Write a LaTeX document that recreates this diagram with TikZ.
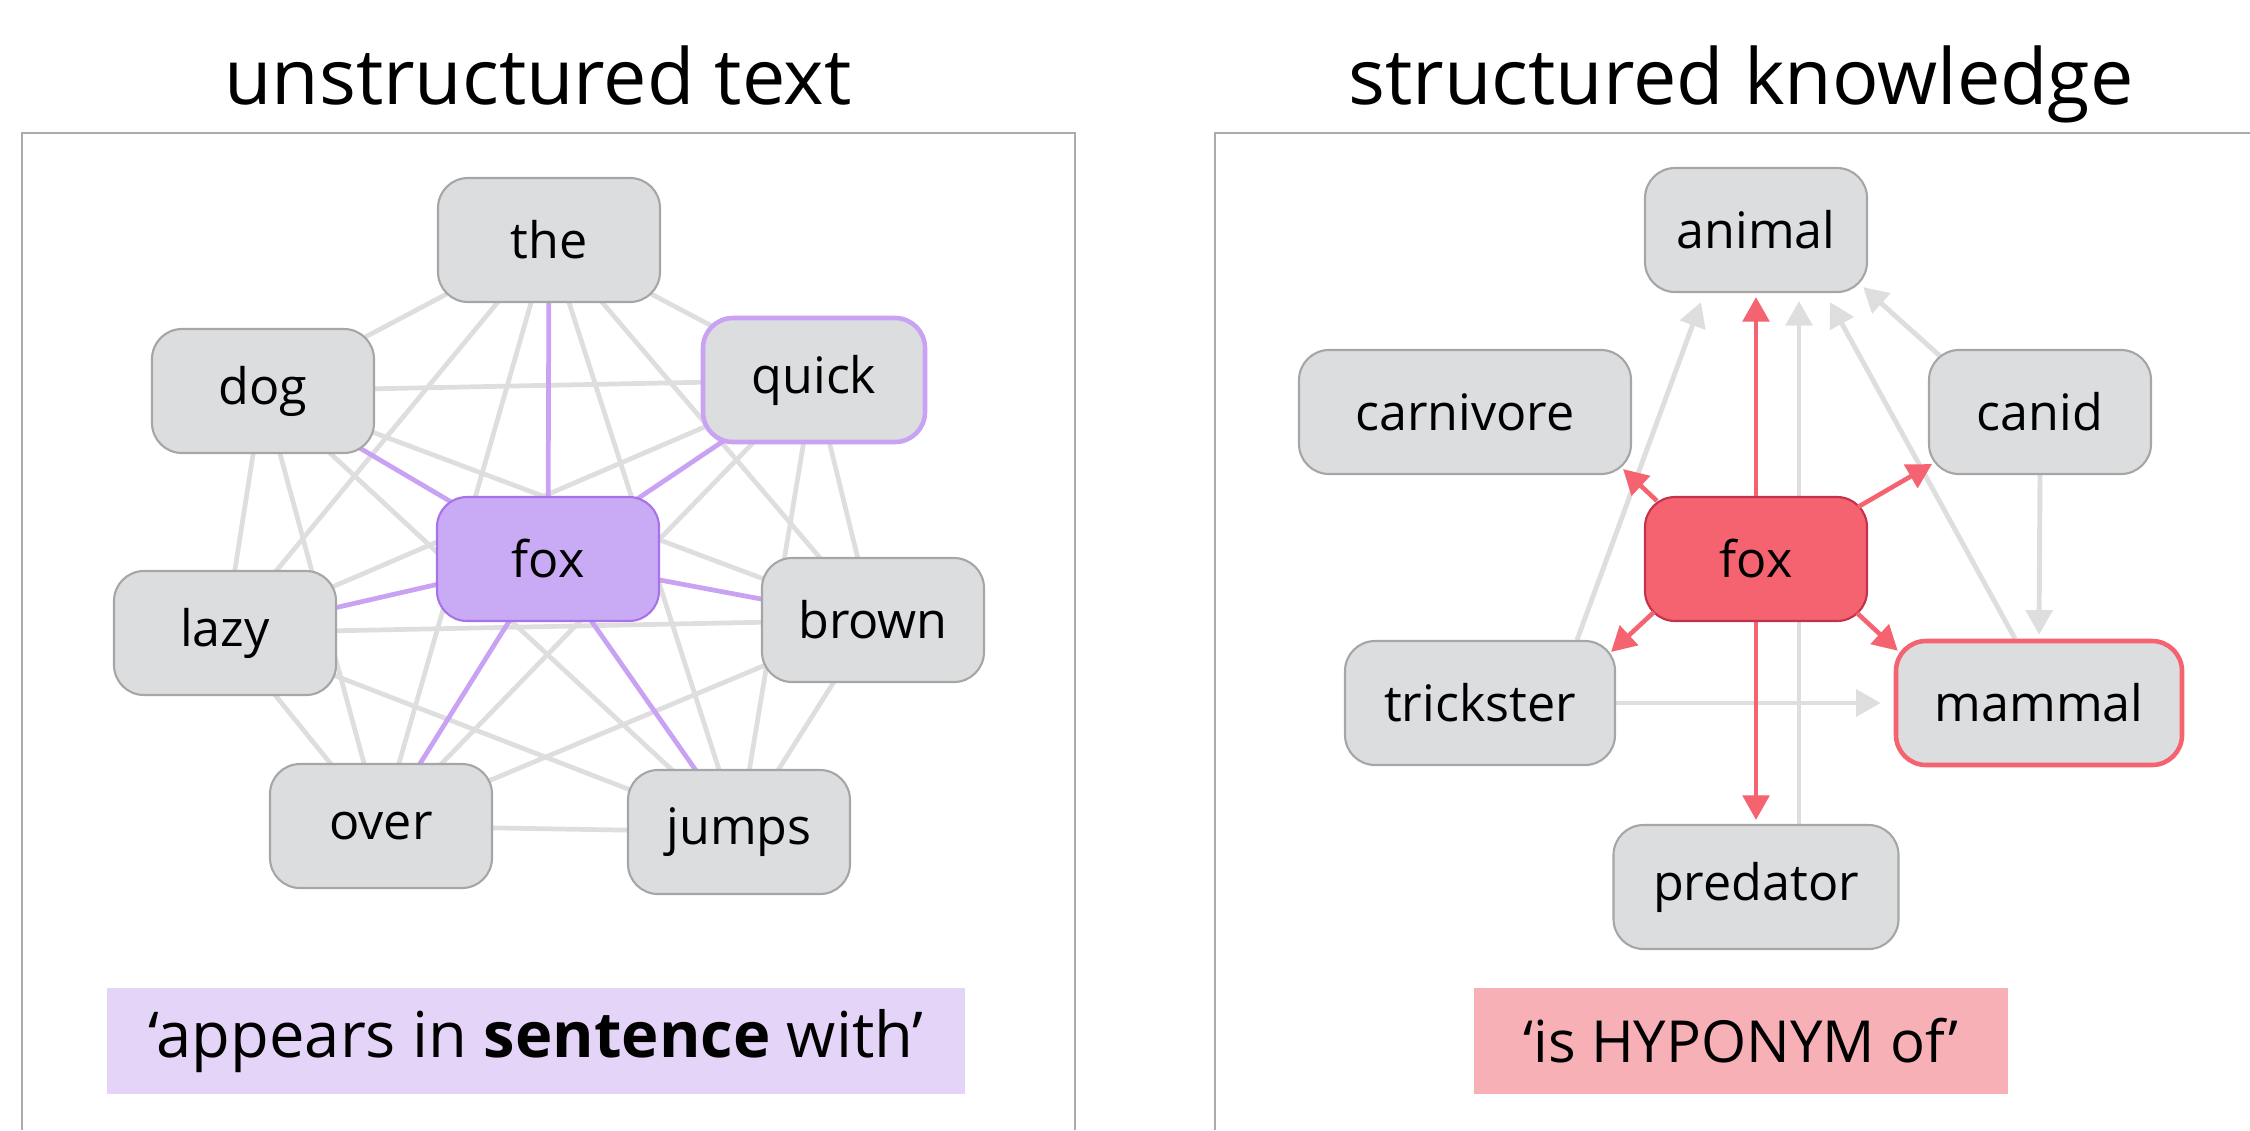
\documentclass[tikz,border=0pt]{standalone}
\usepackage{fontspec}
\setmainfont{Open Sans}
\usetikzlibrary{arrows.meta,backgrounds}

\definecolor{boxgray}{HTML}{DCDDDF}
\definecolor{boxline}{HTML}{A6A6A6}
\definecolor{edgegray}{HTML}{DEDEDE}
\definecolor{lilac}{HTML}{C9A2F4}
\definecolor{lilacfill}{HTML}{C9AAF4}
\definecolor{lilacdark}{HTML}{A872E8}
\definecolor{lilacpale}{HTML}{E3D4F8}
\definecolor{coral}{HTML}{F4636F}
\definecolor{coraldark}{HTML}{C3314A}
\definecolor{coralpale}{HTML}{F8B0B7}
\definecolor{framegray}{HTML}{ABABAB}

\tikzset{
  word/.style={draw=boxline, line width=0.6pt, fill=boxgray, rounded corners=3mm,
    minimum width=22.2mm, minimum height=12.4mm, inner sep=0pt,
    font=\fontsize{14.3}{17}\selectfont},
  title/.style={anchor=base, font=\fontsize{22}{26}\selectfont},
  relation/.style={minimum height=10.6mm, inner sep=0pt},
  cooc/.style={edgegray, line width=1.35pt},
  coocfox/.style={lilac, line width=1.35pt},
  isa/.style={edgegray, line width=1.4pt, -{Triangle[length=7pt,width=7.5pt]}},
  hypo/.style={coral, line width=1.3pt, -{Triangle[length=7pt,width=7.5pt]}},
  frame/.style={framegray, line width=0.6pt}
}

\begin{document}
\begin{tikzpicture}[x=0.1mm, y=-0.1mm]
  \useasboundingbox (0,0) rectangle (2250,1130);
  % the two panels
  \draw[frame] (22,1130) -- (22,133) -- (1075,133) -- (1075,1130);
  \draw[frame] (1215,1130) -- (1215,133) -- (2250,133);
  \node[title] (ttext) at (538,104) {unstructured text};
  \node[title] (tknow) at (1741,104) {structured knowledge};

  % words of the sentence
  \node[word] (the) at (549,240) {the};
  \node[word] (dog) at (263,391) {dog};
  \node[word, draw=lilac, line width=1.3pt] (quick) at (814,380) {quick};
  \node[word, fill=lilacfill, draw=lilacdark] (tfox) at (548,559) {fox};
  \node[word] (lazy) at (225,633) {lazy};
  \node[word] (brown) at (873,620) {brown};
  \node[word] (over) at (381,826) {over};
  \node[word] (jumps) at (739,832) {jumps};
  \node[relation, fill=lilacpale, minimum width=85.8mm, font=\fontsize{18}{21}\selectfont]
    (cooclabel) at (536,1041) {‘appears in \textbf{sentence} with’};

  \begin{scope}[on background layer]
    \foreach \a [count=\i] in {the,quick,brown,jumps,over,lazy,dog}
      \foreach \b [count=\j] in {the,quick,brown,jumps,over,lazy,dog}
        {\ifnum\i<\j \draw[cooc] (\a.center) -- (\b.center); \fi}
    \foreach \b in {the,quick,brown,jumps,over,lazy,dog}
      \draw[coocfox] (tfox.center) -- (\b.center);
  \end{scope}

  % hyponym graph
  \node[word] (animal) at (1756,230) {animal};
  \node[word, minimum width=33.2mm] (carnivore) at (1465,412) {carnivore};
  \node[word] (canid) at (2040,412) {canid};
  \node[word, fill=coral, draw=coraldark] (kfox) at (1756,559) {fox};
  \node[word, minimum width=27mm] (trickster) at (1480,703) {trickster};
  \node[word, minimum width=28.6mm, draw=coral, line width=1.3pt] (mammal) at (2039,703) {mammal};
  \node[word, minimum width=28.5mm] (predator) at (1756,887) {predator};
  \node[relation, fill=coralpale, minimum width=53.4mm, font=\fontsize{16.5}{20}\selectfont]
    (hypolabel) at (1741,1041) {‘is HYPONYM of’};

  \begin{scope}[on background layer]
    \draw[isa] ([shift={(97,0)}]trickster.north) -- ([shift={(-55,9)}]animal.south);
    \draw[isa] ([shift={(43,0)}]predator.north) -- ([shift={(43,8)}]animal.south);
    \draw[isa] ([shift={(-24,0)}]mammal.north) -- ([shift={(74,9)}]animal.south);
    \draw[isa] ([shift={(12,7)}]canid.north west) -- ([shift={(-5,-6)}]animal.south east);
    \draw[isa] (canid.south) -- ([shift={(0,-4)}]mammal.north);
    \draw[isa] (trickster.east) -- ([shift={(-13,0)}]mammal.west);
  \end{scope}
  \draw[hypo] (kfox.north) -- ([shift={(0,4)}]animal.south);
  \draw[hypo] (kfox.south) -- ([shift={(0,-4)}]predator.north);
  \draw[hypo] ([shift={(13,5)}]kfox.north west) -- ([shift={(-9,-6)}]carnivore.south east);
  \draw[hypo] ([shift={(-10,11)}]kfox.north east) -- ([shift={(4,-11)}]canid.south west);
  \draw[hypo] ([shift={(10,-10)}]kfox.south west) -- ([shift={(-5,12)}]trickster.north east);
  \draw[hypo] ([shift={(-11,-9)}]kfox.south east) -- ([shift={(4,12)}]mammal.north west);
\end{tikzpicture}
\end{document}
